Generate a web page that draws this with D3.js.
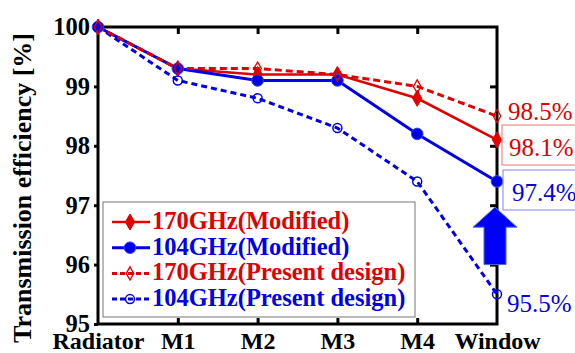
<!DOCTYPE html>
<html><head><meta charset="utf-8">
<script src="https://cdn.jsdelivr.net/npm/d3@7"></script>
<style>
html,body{margin:0;padding:0;background:#fff;}
svg{display:block;}
svg text{font-family:"Liberation Serif","DejaVu Serif",serif !important;}
</style></head>
<body>
<svg id="c" width="575" height="353"></svg>
<script>
const categories = ["Radiator","M1","M2","M3","M4","Window"];
const mod170 = [100, 99.3, 99.2, 99.2, 98.8, 98.1];
const mod104 = [100, 99.3, 99.1, 99.1, 98.2, 97.4];
const pres170 = [100, 99.3, 99.3, 99.2, 99.0, 98.5];
const pres104 = [100, 99.1, 98.8, 98.3, 97.4, 95.5];
const yTicks = [95, 96, 97, 98, 99, 100];
const seriesNames = ["170GHz(Modified)","104GHz(Modified)","170GHz(Present design)","104GHz(Present design)"];
const annotations = [
  {value: 98.5, label: "98.5%", color: "red", box: false},
  {value: 98.1, label: "98.1%", color: "red", box: true},
  {value: 97.4, label: "97.4%", color: "blue", box: true},
  {value: 95.5, label: "95.5%", color: "blue", box: false}
];

const FONT = '"Liberation Serif","DejaVu Serif",serif';
const RED = "#e00000", BLUE = "#0000e6";
const svg = d3.select("#c");
const L = 98, R = 497, T = 27, B = 324;
const x = d3.scalePoint().domain(categories).range([L, R]);
const y = d3.scaleLinear().domain([95, 100]).range([B, T]);

// Bottom axis: inward ticks + labels
const gB = svg.append("g").attr("transform", `translate(0,${B})`)
  .call(d3.axisBottom(x).tickSizeInner(-6).tickSizeOuter(0).tickPadding(10));
gB.attr("font-family", FONT);
gB.select(".domain").remove();
gB.selectAll("line").attr("stroke","#000").attr("stroke-width",3);
gB.selectAll("text").attr("font-size",24).attr("font-weight","bold").attr("fill","#000")
  .style("font-family", FONT).attr("dy","0.62em");
gB.selectAll(".tick").filter(d => d === "Radiator" || d === "Window").select("line").remove();

// Top axis: inward ticks
const gT = svg.append("g").attr("transform", `translate(0,${T})`)
  .call(d3.axisTop(x).tickSizeInner(-7).tickSizeOuter(0).tickFormat(""));
gT.select(".domain").remove();
gT.selectAll("line").attr("stroke","#000").attr("stroke-width",3);
gT.selectAll(".tick").filter(d => d === "Radiator" || d === "Window").remove();

// Left axis
const gL = svg.append("g").attr("transform", `translate(${L},0)`)
  .call(d3.axisLeft(y).tickValues(yTicks).tickSizeInner(4).tickSizeOuter(0).tickPadding(4).tickFormat(d3.format("d")));
gL.attr("font-family", FONT);
gL.select(".domain").remove();
gL.selectAll("line").attr("stroke","#000").attr("stroke-width",3);
gL.selectAll("text").attr("font-size",24.5).attr("font-weight","bold").attr("fill","#000")
  .style("font-family", FONT);

// Right axis: inward ticks
const gR = svg.append("g").attr("transform", `translate(${R},0)`)
  .call(d3.axisRight(y).tickValues([96,97,98,99]).tickSizeInner(-7).tickSizeOuter(0).tickFormat(""));
gR.select(".domain").remove();
gR.selectAll("line").attr("stroke","#000").attr("stroke-width",3);

// Frame
svg.append("rect").attr("x",L).attr("y",T).attr("width",R-L).attr("height",B-T)
  .attr("fill","none").attr("stroke","#000").attr("stroke-width",3);

// Y title
svg.append("text").attr("transform",`translate(31,188) rotate(-90)`)
  .attr("text-anchor","middle").attr("font-size",26).attr("font-weight","bold")
  .style("font-family", FONT)
  .text("Transmission efficiency [%]");

const line = d3.line().x((d,i)=>x(categories[i])).y(d=>y(d));
const diamond = d3.symbol().type(d3.symbolDiamond);

const series = [
  {vals: mod170, color: RED, dash: null, w: 2.5, marker: "diamond", filled: true},
  {vals: mod104, color: BLUE, dash: null, w: 3, marker: "circle", filled: true},
  {vals: pres104, color: BLUE, dash: "6,4", w: 3, marker: "circle", filled: false},
  {vals: pres170, color: RED, dash: "7,4", w: 3, marker: "diamond", filled: false}
];

function drawMarker(g, s, cx, cy) {
  if (s.marker === "circle") {
    g.append("circle").attr("cx",cx).attr("cy",cy).attr("r", s.filled ? 5.8 : 4.5)
      .attr("fill", s.filled ? s.color : "none").attr("stroke", s.filled ? "#3344ff" : s.color)
      .attr("stroke-width", s.filled ? 1 : 1.5);
  } else {
    g.append("path").attr("d", diamond.size(s.filled ? 75 : 50)())
      .attr("transform",`translate(${cx},${cy})`)
      .attr("fill", s.filled ? s.color : "#fff").attr("fill-opacity", s.filled ? 1 : 0)
      .attr("stroke", s.color).attr("stroke-width", s.filled ? 1 : 1.3);
  }
}

series.forEach(s => {
  svg.append("path").datum(s.vals).attr("d", line).attr("fill","none")
    .attr("stroke", s.color).attr("stroke-width", s.w)
    .attr("stroke-dasharray", s.dash);
});
series.forEach(s => {
  const g = svg.append("g");
  s.vals.forEach((v,i) => drawMarker(g, s, x(categories[i]), y(v)));
});

// Legend
const lg = svg.append("g");
lg.append("rect").attr("x",103).attr("y",202).attr("width",312).attr("height",115)
  .attr("fill","#fff").attr("stroke","#777").attr("stroke-width",1);
const legendOrder = [
  {name: seriesNames[0], s: series[0]},
  {name: seriesNames[1], s: series[1]},
  {name: seriesNames[2], s: series[3]},
  {name: seriesNames[3], s: series[2]}
];
legendOrder.forEach((e,i) => {
  const cy = 222 + i*25.7;
  lg.append("line").attr("x1",112).attr("x2",150).attr("y1",cy).attr("y2",cy)
    .attr("stroke", e.s.color).attr("stroke-width", e.s.w).attr("stroke-dasharray", e.s.dash ? "5,3" : null);
  drawMarker(lg, e.s, 130, cy);
  lg.append("text").attr("x",152).attr("y",cy+7).attr("font-size",24.5).attr("font-weight","bold")
    .style("font-family", FONT)
    .attr("fill", e.s.color).text(e.name);
});

// Annotations
const annG = svg.append("g");
const annPos = {"98.5%": {bx:null, ty:120, tx:508}, "98.1%": {bx:502, by:125, bh:40, ty:156, tx:509},
                "97.4%": {bx:503, by:170, bh:40, ty:201, tx:512}, "95.5%": {bx:null, ty:312, tx:507}};
annotations.forEach(a => {
  const p = annPos[a.label];
  const col = a.color === "red" ? RED : BLUE;
  if (a.box) {
    annG.append("rect").attr("x",p.bx).attr("y",p.by).attr("width",90).attr("height",p.bh)
      .attr("fill","#fff").attr("stroke", a.color === "red" ? "#f07070" : "#8080ff").attr("stroke-width",1);
  }
  annG.append("text").attr("x",p.tx).attr("y",p.ty).attr("font-size",25).attr("fill",col)
    .style("font-family", FONT).text(a.label);
});

// Arrow from 96 to 97 at Window
const ax = x("Window") - 2, yb = y(96), yt = y(97) + 2, yh = y(96.63);
const arrow = `M${ax},${yt} L${ax+22},${yh} L${ax+11},${yh} L${ax+11},${yb} L${ax-11},${yb} L${ax-11},${yh} L${ax-22},${yh} Z`;
svg.append("path").attr("d", arrow).attr("fill","#0000ff").attr("stroke","#4a6fd0").attr("stroke-width",1);
</script>
</body></html>
